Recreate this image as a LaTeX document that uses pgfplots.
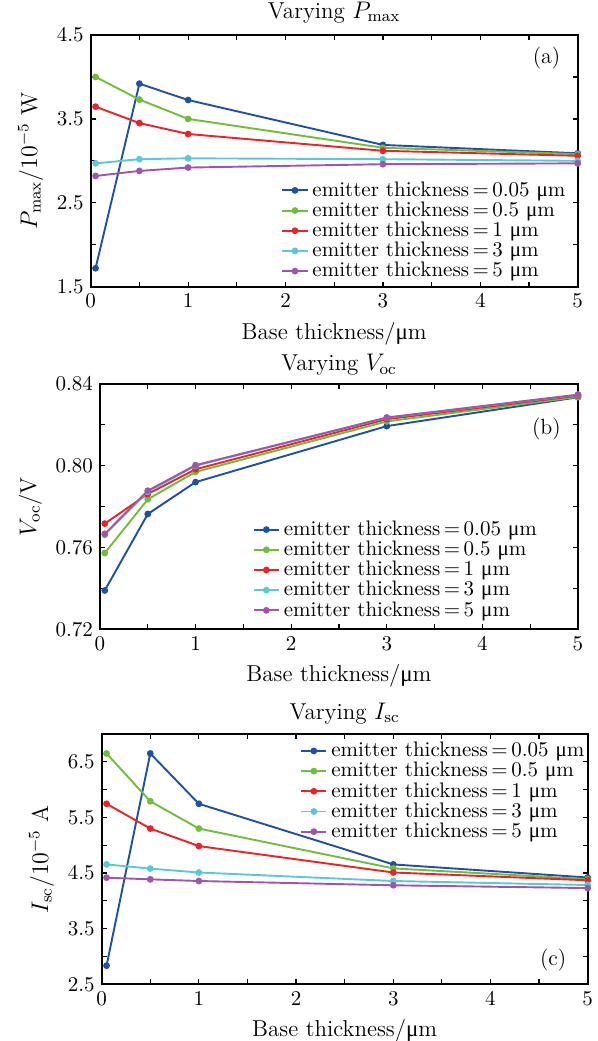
\documentclass[border=0pt]{standalone}
\usepackage{fontspec}
\newfontfamily\mufont{Liberation Serif}
\newcommand{\um}{{\mufont μ}m}
\usepackage{pgfplots}
\pgfplotsset{compat=1.18}
\definecolor{cb}{RGB}{30,80,165}
\definecolor{cg}{RGB}{110,190,60}
\definecolor{cr}{RGB}{235,35,40}
\definecolor{cc}{RGB}{90,200,215}
\definecolor{cp}{RGB}{160,85,170}
\pgfplotsset{
  every axis title shift=0pt,
  myax/.style={
    scale only axis, axis line style={line width=1.1pt}, tick style={black, line width=0.6pt},
    major tick length=2.5pt, tick align=inside,
    xmin=0, xmax=5, xtick={0,0.5,...,5}, xticklabels={0,,1,,2,,3,,4,,5},
    tick label style={font=\fontsize{10.5}{12}\selectfont},
    label style={font=\fontsize{11.5}{13}\selectfont},
    title style={font=\fontsize{11.5}{13}\selectfont, at={(0.5,1)}, anchor=base, yshift=8.5pt},
    xlabel={Base thickness/\um},
    every axis plot/.append style={line width=0.95pt, mark=*, mark size=1.2pt},
    legend style={draw=none, fill=none, inner sep=0pt, row sep=-2.7pt,
      font=\fontsize{10.5}{12}\selectfont,
      cells={anchor=west}},
    legend image code/.code={\draw[line width=0.95pt, mark repeat=2,mark phase=2] plot coordinates {(0cm,0cm)(0.22cm,0cm)(0.44cm,0cm)};},
    clip=false,
  }
}
\begin{document}
\begin{tikzpicture}
\path[use as bounding box] (0,0) rectangle (299pt,520.5pt);
% (a)
\begin{axis}[myax, at={(45.35pt,377.15pt)}, anchor=south west, width=243.5pt, height=125.85pt,
  ymin=1.5, ymax=4.5, ytick={1.5,2,...,4.5}, yticklabels={1.5,,2.5,,3.5,,4.5},
  title={Varying $P_{\rm max}$}, ylabel={$P_{\rm max}/10^{-5}$ W},
  legend style={at={(0.391,0.435)}, anchor=north west}]
\addplot[color=cb] coordinates {(0.05,1.72)(0.5,3.92)(1,3.725)(3,3.19)(5,3.09)};
\addplot[color=cg] coordinates {(0.05,4.0)(0.5,3.73)(1,3.50)(3,3.156)(5,3.08)};
\addplot[color=cr] coordinates {(0.05,3.646)(0.5,3.45)(1,3.32)(3,3.12)(5,3.06)};
\addplot[color=cc] coordinates {(0.05,2.97)(0.5,3.02)(1,3.03)(3,3.02)(5,3.00)};
\addplot[color=cp] coordinates {(0.05,2.82)(0.5,2.88)(1,2.92)(3,2.96)(5,2.97)};
\legend{emitter thickness\,=\,0.05 \um, emitter thickness\,=\,0.5 \um, emitter thickness\,=\,1 \um, emitter thickness\,=\,3 \um, emitter thickness\,=\,5 \um}
\node[font=\fontsize{11}{13}\selectfont] at (axis description cs:0.936,0.907) {(a)};
\end{axis}
% (b)
\begin{axis}[myax, at={(50pt,205.85pt)}, anchor=south west, width=239pt, height=122.65pt,
  ymin=0.72, ymax=0.84, ytick={0.72,0.74,...,0.845}, yticklabels={0.72,,0.76,,0.80,,0.84},
  title={Varying $V_{\rm oc}$}, ylabel={$V_{\rm oc}$/V},
  title style={yshift=-2pt},
  legend style={at={(0.319,0.46)}, anchor=north west}]
\addplot[color=cb] coordinates {(0.05,0.739)(0.5,0.7764)(1,0.792)(3,0.8194)(5,0.8335)};
\addplot[color=cg] coordinates {(0.05,0.7573)(0.5,0.7836)(1,0.797)(3,0.8217)(5,0.8337)};
\addplot[color=cr] coordinates {(0.05,0.7717)(0.5,0.7862)(1,0.7983)(3,0.8228)(5,0.8343)};
\addplot[color=cc] coordinates {(0.05,0.7662)(0.5,0.7873)(1,0.8000)(3,0.8235)(5,0.8347)};
\addplot[color=cp] coordinates {(0.05,0.7667)(0.5,0.7878)(1,0.8003)(3,0.8236)(5,0.8348)};
\legend{emitter thickness\,=\,0.05 \um, emitter thickness\,=\,0.5 \um, emitter thickness\,=\,1 \um, emitter thickness\,=\,3 \um, emitter thickness\,=\,5 \um}
\node[font=\fontsize{11}{13}\selectfont] at (axis description cs:0.934,0.815) {(b)};
\end{axis}
% (c)
\begin{axis}[myax, at={(50.85pt,28.35pt)}, anchor=south west, width=243pt, height=125.15pt,
  ymin=2.5, ymax=7, ytick={2.5,3,...,7}, yticklabels={2.5,,3.5,,4.5,,5.5,,6.5,},
  title={Varying $I_{\rm sc}$}, ylabel={$I_{\rm sc}/10^{-5}$ A},
  title style={yshift=-1pt},
  legend style={at={(0.408,0.985)}, anchor=north west}]
\addplot[color=cb] coordinates {(0.05,2.835)(0.5,6.65)(1,5.745)(3,4.655)(5,4.42)};
\addplot[color=cg] coordinates {(0.05,6.65)(0.5,5.79)(1,5.30)(3,4.584)(5,4.39)};
\addplot[color=cr] coordinates {(0.05,5.745)(0.5,5.30)(1,4.985)(3,4.51)(5,4.37)};
\addplot[color=cc] coordinates {(0.05,4.655)(0.5,4.58)(1,4.51)(3,4.357)(5,4.285)};
\addplot[color=cp] coordinates {(0.05,4.417)(0.5,4.387)(1,4.357)(3,4.28)(5,4.23)};
\legend{emitter thickness\,=\,0.05 \um, emitter thickness\,=\,0.5 \um, emitter thickness\,=\,1 \um, emitter thickness\,=\,3 \um, emitter thickness\,=\,5 \um}
\node[font=\fontsize{11}{13}\selectfont] at (axis description cs:0.929,0.097) {(c)};
\end{axis}
\end{tikzpicture}
\end{document}
